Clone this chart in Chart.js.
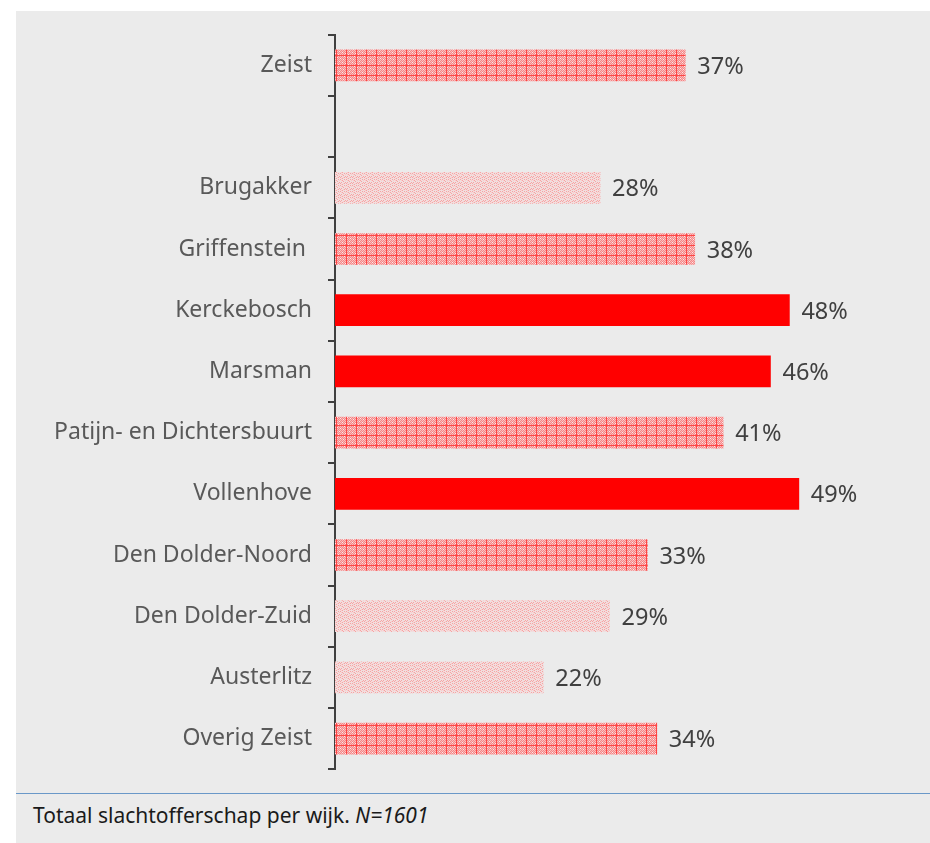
<!DOCTYPE html>
<html>
<head>
<meta charset="utf-8">
<script src="https://cdn.jsdelivr.net/npm/chart.js@4/dist/chart.umd.min.js"></script>
<style>
  html, body { margin: 0; padding: 0; background: #fff; }
  body { width: 930px; height: 843px; position: relative; overflow: hidden; font-family: 'Noto Sans', 'Open Sans', sans-serif; }
  #panel { position: absolute; left: 16px; top: 11px; width: 914px; height: 832px; background: #ebebeb; }
  #wrap { position: absolute; left: 0; top: -6px; width: 914px; height: 794px; }
  #rule { position: absolute; left: 0; top: 782px; width: 914px; height: 1px; background: #6a98c8; }
  #caption { position: absolute; left: 17px; top: 790px; font-size: 21px; color: #1a1a1a; }
</style>
</head>
<body>
<div id="panel">
  <div id="wrap"><canvas id="grafico"></canvas></div>
  <div id="rule"></div>
  <div id="caption">Totaal slachtofferschap per wijk. <i>N=1601</i></div>
</div>
<script>
'use strict';

// Dati
const wijken = ['Zeist', '', 'Brugakker', 'Griffenstein ', 'Kerckebosch', 'Marsman',
  'Patijn- en Dichtersbuurt', 'Vollenhove', 'Den Dolder-Noord', 'Den Dolder-Zuid', 'Austerlitz', 'Overig Zeist'];
const percentages = [37, null, 28, 38, 48, 46, 41, 49, 33, 29, 22, 34];
// vulling: 'vol' = effen rood, 'middel' = dicht raster, 'licht' = licht raster
const vulling = ['middel', null, 'licht', 'middel', 'vol', 'vol', 'middel', 'vol', 'middel', 'licht', 'licht', 'middel'];

// Patroon-tegels
function maakPatroon(soort) {
  const c = document.createElement('canvas');
  const n = soort === 'middel' ? 10 : 6;
  c.width = n; c.height = n;
  const g = c.getContext('2d');
  if (soort === 'middel') {
    g.fillStyle = '#fabcbc';
    g.fillRect(0, 0, n, n);
    for (let y = 0; y < n; y++) {
      for (let x = 0; x < n; x++) {
        if ((x + y) % 2 === 0) { g.fillStyle = '#f58686'; g.fillRect(x, y, 1, 1); }
        else if ((x * 3 + y) % 5 === 0) { g.fillStyle = '#fde8e8'; g.fillRect(x, y, 1, 1); }
      }
    }
    g.fillStyle = '#ff4545';
    g.fillRect(0, 0, n, 1);
    g.fillRect(0, 0, 1, n);
  } else {
    g.fillStyle = '#f1dede';
    g.fillRect(0, 0, n, n);
    g.fillStyle = '#f7a3a3';
    [[0,0],[2,1],[4,0],[1,3],[3,2],[5,3],[0,4],[2,5],[4,4]].forEach(p => g.fillRect(p[0], p[1], 1, 1));
    g.fillStyle = '#fbc9c9';
    [[1,1],[3,4],[5,1],[1,5]].forEach(p => g.fillRect(p[0], p[1], 1, 1));
  }
  return document.createElement('canvas').getContext('2d').createPattern(c, 'repeat');
}

const kleuren = { vol: '#ff0000', middel: maakPatroon('middel'), licht: maakPatroon('licht') };

// Plugin per le etichette dei valori
const waardeLabels = {
  id: 'waardeLabels',
  afterDatasetsDraw(chart) {
    const ctx = chart.ctx;
    const meta = chart.getDatasetMeta(0);
    ctx.save();
    ctx.font = "23.5px 'Noto Sans', 'Open Sans', sans-serif";
    ctx.fillStyle = '#404040';
    ctx.textAlign = 'left';
    ctx.textBaseline = 'middle';
    meta.data.forEach((bar, i) => {
      const v = percentages[i];
      if (v == null) return;
      ctx.fillText(v + '%', bar.x + 12, bar.y + 2);
    });
    ctx.restore();
  }
};

new Chart(document.getElementById('grafico').getContext('2d'), {
  type: 'bar',
  data: {
    labels: wijken,
    datasets: [{
      data: percentages,
      backgroundColor: vulling.map(v => v ? kleuren[v] : 'transparent'),
      borderWidth: 0,
      barThickness: 31
    }]
  },
  options: {
    indexAxis: 'y',
    responsive: true,
    maintainAspectRatio: false,
    animation: false,
    layout: { padding: { top: 17, bottom: 11, right: 27, left: 0 } },
    plugins: { legend: { display: false }, tooltip: { enabled: false } },
    scales: {
      x: { display: false, min: 0, max: 60 },
      y: {
        offset: true,
        afterFit: s => { s.width = 319; },
        border: { display: true, color: '#404040', width: 2 },
        grid: { offset: true, drawOnChartArea: false, drawTicks: true, tickLength: 7, color: '#404040', lineWidth: 2 },
        ticks: { color: '#595959', padding: 16, font: { family: "'Noto Sans', 'Open Sans', sans-serif", size: 23 } }
      }
    }
  },
  plugins: [waardeLabels]
});
</script>
</body>
</html>
